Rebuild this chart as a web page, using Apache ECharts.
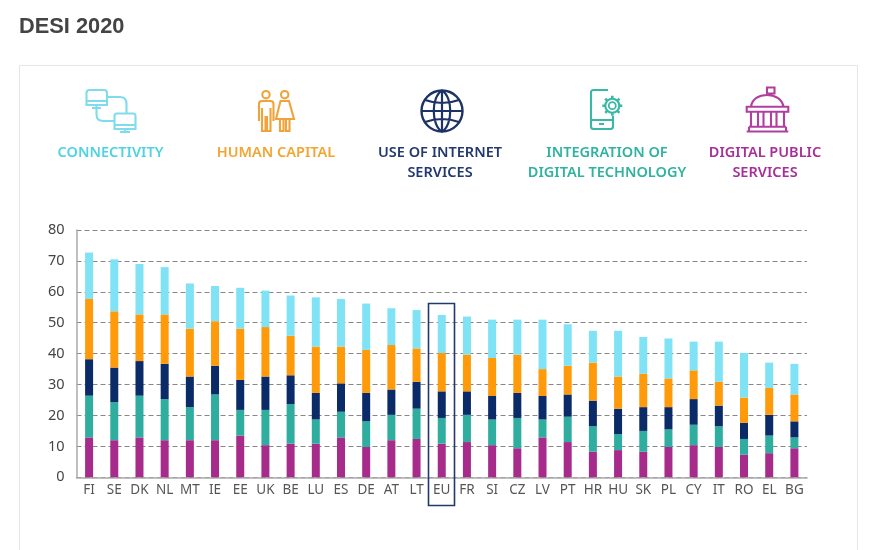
<!DOCTYPE html>
<html>
<head>
<meta charset="utf-8">
<title>DESI 2020</title>
<style>
html,body{margin:0;padding:0;background:#fff;}
#chart{width:880px;height:550px;}
</style>
<script src="https://cdn.jsdelivr.net/npm/echarts@6/dist/echarts.min.js"></script>
</head>
<body>
<div id="chart"></div>
<script>
const countries=['FI','SE','DK','NL','MT','IE','EE','UK','BE','LU','ES','DE','AT','LT','EU','FR','SI','CZ','LV','PT','HR','HU','SK','PL','CY','IT','RO','EL','BG'];
// stacked from the axis up
const digitalPublic=[12.9,12,12.9,12,12,12,13.5,10.4,10.9,10.9,12.9,9.8,12,12.4,10.9,11.4,10.4,9.4,12.9,11.4,8.3,8.8,8.3,9.8,10.4,9.8,7.3,7.8,9.4];
const integration=[13.5,12.3,13.5,13.3,10.7,14.8,8.3,11.4,12.8,7.8,8.3,8.3,8.2,9.8,8.3,8.8,8.3,9.8,5.8,8.2,8.2,5.2,6.7,5.7,6.6,6.7,5.1,5.7,3.5];
const internetUse=[11.8,11.2,11.2,11.4,9.9,9.3,9.7,10.8,9.3,8.6,9.2,9.2,8.2,8.7,8.6,7.6,7.6,8.1,7.6,7.2,8.3,8.2,7.7,7.2,8.3,6.7,5.2,6.7,5.2];
const humanCapital=[19.5,18.2,15.1,16,15.5,14.4,16.6,16,12.8,15,11.9,13.9,14.4,10.8,12.4,11.9,12.3,12.4,8.7,9.3,12.3,10.4,10.8,9.3,9.3,7.7,8.2,8.7,8.7];
const connectivity=[15,16.8,16.3,15.3,14.6,11.4,13.2,11.8,13,15.9,15.4,15,11.9,12.4,12.3,12.3,12.4,11.3,16,13.4,10.3,14.8,11.9,12.9,9.3,13,14.4,8.2,9.9];

const labelFont='"Noto Sans", sans-serif';

function bars(name,data,color){
	return {name:name,type:'bar',stack:'desi',data:data,barWidth:8,itemStyle:{color:color},silent:true};
}
// the graphic component has no plain path type, so each icon path gets its own registered shape
let shapeCount=0;
function line(pathData,color,width){
	let shapeName='iconPath'+(shapeCount++);
	echarts.graphic.registerShape(shapeName,echarts.graphic.extendPath(pathData,{}));
	return {type:shapeName,style:{fill:null,stroke:color,lineWidth:width||2.1}};
}
function caption(x,text,color){
	return {type:'text',x:x,y:143,style:{text:text,fill:color,font:'600 14.5px '+labelFont,align:'center',verticalAlign:'top',lineHeight:20}};
}

// gear teeth for the phone icon
let gearTeeth='';
for (let i=0;i<8;i++) {
	let a=i*Math.PI/4;
	gearTeeth+='M'+(612.3+7*Math.cos(a)).toFixed(1)+' '+(105.7+7*Math.sin(a)).toFixed(1)+'L'+(612.3+10*Math.cos(a)).toFixed(1)+' '+(105.7+10*Math.sin(a)).toFixed(1);
}

const cyan='#7fdcec',orange='#f0a33a',navy='#1d3266',teal='#3ab8a6',purple='#b13f9f';

const icons=[
	// connectivity
	line('M86.5 93Q86.5 90 89.5 90H104Q107 90 107 93V105H86.5ZM86.5 101H107M92 108H101M96.5 105V108M107 97H120Q126.5 97 126.5 104V113.5M96.5 108V114Q96.5 121 103 121H114.5M114.5 116Q114.5 113.5 117 113.5H133Q135.5 113.5 135.5 116V129H114.5ZM114.5 125H135.5M120 132H130M125 129V132',cyan),
	// human capital
	{type:'circle',shape:{cx:266,cy:94.7,r:3.7},style:{fill:null,stroke:orange,lineWidth:2.1}},
	{type:'circle',shape:{cx:284.7,cy:94.7,r:3.7},style:{fill:null,stroke:orange,lineWidth:2.1}},
	line('M259 121V104Q259 101 262 101H270.5Q273.5 101 273.5 104V121M262 108V131H265.5V116M267 116V131H270.5V108',orange),
	line('M280.5 101H289L294 119H276ZM280 119V131H283.5V119M286 119V131H289.5V119',orange),
	// internet
	{type:'circle',shape:{cx:442,cy:111,r:20.5},style:{fill:null,stroke:navy,lineWidth:2.4}},
	line('M442 90.5C431 97 431 125 442 131.5C453 125 453 97 442 90.5M442 90.5V131.5M421.5 111H462.5M425 100Q442 106 459 100M425 122Q442 116 459 122',navy,2.2),
	// integration
	line('M608 90H593.5Q591 90 591 92.5V126.5Q591 129 593.5 129H610.5Q613 129 613 126.5V116M591 120H613M599 124H604',teal),
	{type:'circle',shape:{cx:612.3,cy:105.7,r:7},style:{fill:null,stroke:teal,lineWidth:2.1}},
	{type:'circle',shape:{cx:612.3,cy:105.7,r:3.5},style:{fill:null,stroke:teal,lineWidth:1.8}},
	line(gearTeeth,teal,2.6),
	// digital public services
	line('M767 95V87.5H774.5V93.5H767M751 106.7C752 99 759 95 767 95C775 95 782 99 783.5 106.7M746.7 106.7H788.3V111.7H746.7ZM751 111.7V126.7M758 111.7V126.7M763.5 111.7V126.7M771 111.7V126.7M776.5 111.7V126.7M784 111.7V126.7M749 126.7H786M746.7 131.5H788.3M749 126.7V131.5M786 126.7V131.5',purple)
];

var myChart=echarts.init(document.getElementById('chart'));
var option={
	animation:false,
	backgroundColor:'#fff',
	grid:{left:76.5,right:73,top:230,height:247.3},
	xAxis:{
		type:'category',
		data:countries,
		axisTick:{show:false},
		axisLine:{lineStyle:{color:'#aaa',width:1.5}},
		axisLabel:{color:'#555',fontFamily:labelFont,fontSize:13.5,margin:6,interval:0}
	},
	yAxis:{
		type:'value',
		min:0,
		max:80,
		interval:10,
		axisLine:{show:true,lineStyle:{color:'#aaa',width:1.5}},
		axisTick:{show:false},
		axisLabel:{color:'#444',fontFamily:labelFont,fontSize:14.5,margin:12,padding:[2,0,0,0]},
		splitLine:{lineStyle:{color:'#888',type:[5,3],width:1.2}}
	},
	series:[
		bars('Digital public services',digitalPublic,'#a62b8a'),
		bars('Integration of digital technology',integration,'#2fae9f'),
		bars('Use of internet services',internetUse,'#0b2a68'),
		bars('Human capital',humanCapital,'#ff9a0a'),
		bars('Connectivity',connectivity,'#7fe3f5')
	],
	graphic:[
		{type:'text',x:19,y:16,style:{text:'DESI 2020',fill:'#444',font:'bold 21.8px "Liberation Sans", Arial, sans-serif'}},
		{type:'rect',z:-1,shape:{x:19.5,y:65.5,width:838,height:500},style:{fill:'#fff',stroke:'#e6e6e6',lineWidth:1}},
		caption(110.5,'CONNECTIVITY','#4fd3e3'),
		caption(276,'HUMAN CAPITAL','#f2a530'),
		caption(440,'USE OF INTERNET\nSERVICES','#23386e'),
		caption(607,'INTEGRATION OF\nDIGITAL TECHNOLOGY','#2fb3a0'),
		caption(765,'DIGITAL PUBLIC\nSERVICES','#a82f95'),
		{type:'rect',z:10,shape:{x:428.5,y:303.5,width:26,height:202},style:{fill:null,stroke:'#23386e',lineWidth:1.6}}
	].concat(icons)
};
myChart.setOption(option);
</script>
</body>
</html>
